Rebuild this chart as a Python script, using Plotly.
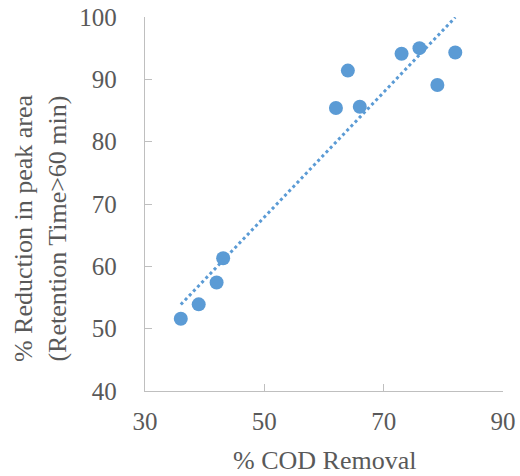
import numpy as np
import plotly.graph_objects as go

cod_removal = [36.0, 39.0, 42.0, 43.1, 62.0, 64.0, 66.0, 73.0, 76.0, 79.0, 82.0]
peak_reduction = [51.6, 53.9, 57.4, 61.3, 85.4, 91.4, 85.6, 94.1, 95.0, 89.1, 94.3]
x_ticks = [30, 50, 70, 90]
y_ticks = [40, 50, 60, 70, 80, 90, 100]

slope, intercept = np.polyfit(cod_removal, peak_reduction, 1)
trend_x = [min(cod_removal), max(cod_removal)]
trend_y = [slope * v + intercept for v in trend_x]

blue = "#5B9BD5"
gray_text = "#595959"
axis_gray = "#BFBFBF"
font_family = "Liberation Serif, Times New Roman, serif"

fig = go.Figure()
fig.add_trace(go.Scatter(x=cod_removal, y=peak_reduction, mode="markers",
                         marker=dict(size=14, color=blue), showlegend=False))
fig.add_trace(go.Scatter(x=trend_x, y=trend_y, mode="lines",
                         line=dict(color=blue, width=3, dash="dot"), showlegend=False))

axis_common = dict(showgrid=False, zeroline=False, showline=True, linecolor=axis_gray,
                   linewidth=1.3, ticks="inside", ticklen=7, tickcolor=axis_gray, tickwidth=1.3,
                   automargin=False,
                   tickfont=dict(family=font_family, size=25, color=gray_text))
fig.update_xaxes(range=[30, 90], tickvals=x_ticks, ticklabelstandoff=8, **axis_common)
fig.update_yaxes(range=[40, 100], tickvals=y_ticks, ticklabelstandoff=22, **axis_common)

fig.add_annotation(text="% COD Removal", xref="paper", yref="paper", x=0.5, y=-0.186,
                   xanchor="center", yanchor="middle", showarrow=False,
                   font=dict(family=font_family, size=26, color=gray_text))
fig.add_annotation(text="% Reduction in peak area<br>(Retention Time>60 min)", xref="paper", yref="paper",
                   x=-0.29, y=0.436, xanchor="center", yanchor="middle", showarrow=False,
                   textangle=-90, font=dict(family=font_family, size=26, color=gray_text))

fig.update_layout(width=520, height=476, margin=dict(l=144.7, r=17.3, t=17.3, b=85.3, autoexpand=False),
                  plot_bgcolor="white", paper_bgcolor="white")
fig.write_html("out.html")
